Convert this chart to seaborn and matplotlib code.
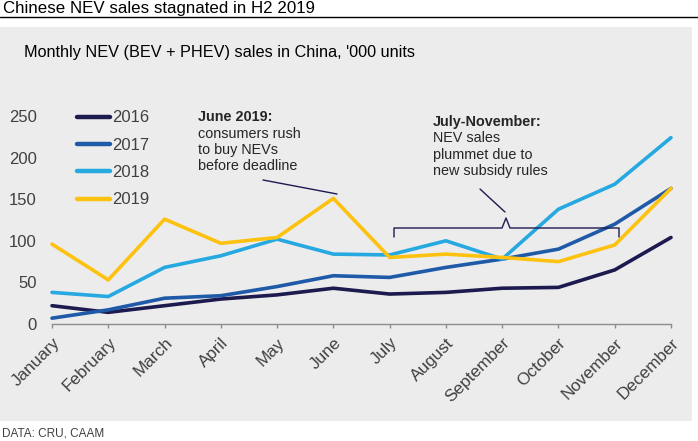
import pandas as pd
import seaborn as sns
import matplotlib.pyplot as plt
from matplotlib.patches import Rectangle
from matplotlib.lines import Line2D

# данные (тыс. шт.)
months = ['January', 'February', 'March', 'April', 'May', 'June', 'July',
          'August', 'September', 'October', 'November', 'December']
sales_2016 = [22, 14, 22, 30, 35, 43, 36, 38, 43, 44, 65, 104]
sales_2017 = [7, 17, 31, 34, 45, 58, 56, 68, 78, 90, 120, 163]
sales_2018 = [38, 33, 68, 82, 102, 84, 83, 100, 78, 138, 168, 224]
sales_2019 = [96, 53, 126, 97, 104, 151, 80, 84, 80, 75, 95, 163]
years = ['2016', '2017', '2018', '2019']
colors = ['#1c1a4f', '#1f5aa8', '#25a9e0', '#fdc20f']

W, H = 698, 441

def px(x, y):
    # пиксели картинки -> доли фигуры
    return x / W, 1 - y / H

df = pd.DataFrame({
    'month': list(range(12)) * 4,
    'sales': sales_2016 + sales_2017 + sales_2018 + sales_2019,
    'year': [y for y in years for _ in range(12)],
})

sns.set_style('white')
plt.rcParams['font.family'] = ['Liberation Sans', 'DejaVu Sans']

fig = plt.figure(figsize=(W / 100, H / 100), dpi=100)
fig.patch.set_facecolor('white')
# серая подложка и линия под заголовком
fig.patches.append(Rectangle(px(0, 421), 692 / W, 394 / H, transform=fig.transFigure,
                             facecolor='#ececec', edgecolor='none', zorder=-5))
fig.lines.append(Line2D([0, 1], [1 - 17 / H] * 2, transform=fig.transFigure,
                        color='black', lw=1))

l, b = px(52, 324)
r, t = px(671, 116)
ax = fig.add_axes([l, b, r - l, t - b])
ax.set_facecolor('none')
ax.set_zorder(2)

sns.lineplot(data=df, x='month', y='sales', hue='year', palette=colors,
             linewidth=2.6, ax=ax, legend=False, sort=False)
for ln in ax.lines:
    ln.set_solid_joinstyle('round')
    ln.set_solid_capstyle('round')
    ln.set_clip_on(False)

ax.set_xlim(0, 11)
ax.set_ylim(0, 250)
ax.set_yticks([0, 50, 100, 150, 200, 250])
ax.set_xticks(range(12))
ax.set_xticklabels(months, rotation=45, ha='right', rotation_mode='anchor')
ax.tick_params(axis='x', length=3, color='#8c8c8c', width=1, labelsize=12.3,
               labelcolor='#404040', pad=5, bottom=True)
ax.tick_params(axis='y', length=0, labelsize=12, labelcolor='#404040', pad=10.8)
ax.set_xlabel('')
ax.set_ylabel('')
for s in ['top', 'right', 'left']:
    ax.spines[s].set_visible(False)
ax.spines['bottom'].set_color('#8c8c8c')
ax.spines['bottom'].set_linewidth(1)

# легенда
handles = [Line2D([], [], color=c, lw=3.2) for c in colors]
fig.legend(handles, years, loc='upper left', bbox_to_anchor=px(77, 110.5),
           frameon=False, fontsize=12, labelcolor='#404040', handlelength=2.0,
           handletextpad=0.1, labelspacing=0.74, borderpad=0, borderaxespad=0)

# заголовки
fig.text(*px(3, 9), 'Chinese NEV sales stagnated in H2 2019', fontsize=12.2,
         va='center', ha='left', color='black')
fig.text(*px(24, 53), "Monthly NEV (BEV + PHEV) sales in China, '000 units", fontsize=11.7,
         va='center', ha='left', color='black')
fig.text(*px(2, 433), 'DATA: CRU, CAAM', fontsize=8.5, va='center', ha='left',
         color='#404040', family=['Liberation Sans Narrow', 'Liberation Sans'])

# аннотация июнь
fig.text(*px(198, 117), 'June 2019:', fontsize=10.4, fontweight='bold', va='center')
for i, s in enumerate(['consumers rush', 'to buy NEVs', 'before deadline']):
    fig.text(*px(198, 133.5 + 16.5 * i), s, fontsize=10.4, va='center')
fig.lines.append(Line2D([263 / W, 337 / W], [1 - 180 / H, 1 - 194 / H],
                        transform=fig.transFigure, color='#1c1a4f', lw=1))

# аннотация июль-ноябрь
fig.text(*px(433, 122), 'July-November:', fontsize=10.4, fontweight='bold', va='center')
for i, s in enumerate(['NEV sales', 'plummet due to', 'new subsidy rules']):
    fig.text(*px(433, 138 + 16.5 * i), s, fontsize=10.4, va='center')
bx = [394, 394, 502, 506, 510, 619, 619]
by = [237, 228, 228, 218, 228, 228, 237]
fig.lines.append(Line2D([x / W for x in bx], [1 - y / H for y in by],
                        transform=fig.transFigure, color='#1c1a4f', lw=1))
fig.lines.append(Line2D([480 / W, 505 / W], [1 - 189 / H, 1 - 212 / H],
                        transform=fig.transFigure, color='#1c1a4f', lw=1))

fig.savefig('out.png', dpi=100)
